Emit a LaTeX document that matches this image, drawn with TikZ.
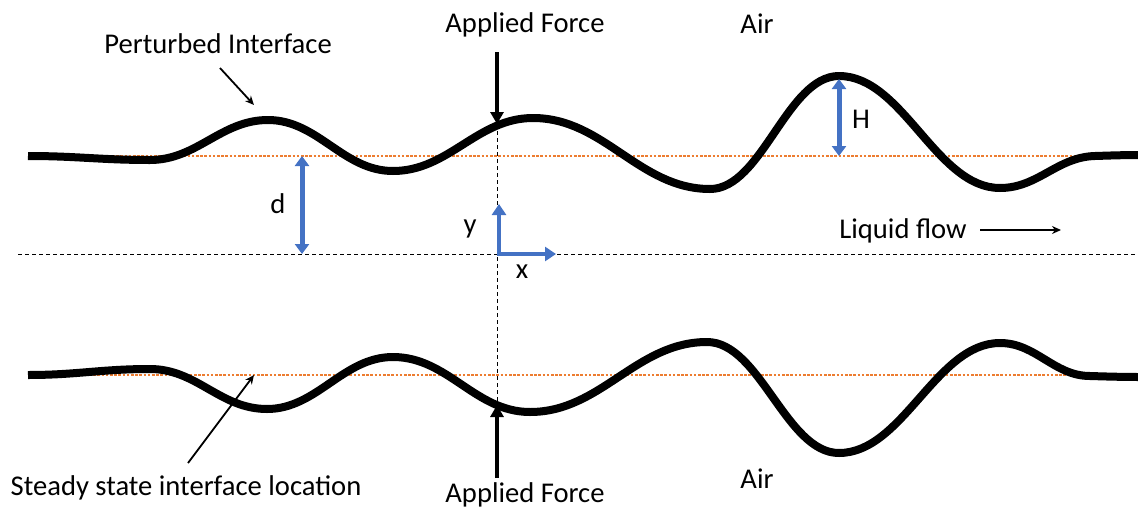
\documentclass[tikz,border=0pt]{standalone}
\usepackage{fontspec}
\setmainfont{Carlito}
\usetikzlibrary{arrows.meta}
\definecolor{cblue}{RGB}{68,114,196}
\definecolor{corange}{RGB}{237,125,49}
\begin{document}
\begin{tikzpicture}[x=1pt,y=-1pt,
  lbl/.style={font=\fontsize{28.6}{34}\selectfont, inner sep=0pt, anchor=base},
  iface/.style={line width=8pt, line join=round},
  steady/.style={corange, line width=2.8pt, dash pattern=on 2.6pt off 1.6pt},
  refline/.style={black, line width=0.9pt, dash pattern=on 4pt off 3pt},
  force/.style={line width=4.5pt, -{Triangle[length=12pt,width=13pt]}},
  bluearr/.style={cblue, line width=5pt, {Triangle[length=10pt,width=14pt]}-{Triangle[length=10pt,width=14pt]}},
  axisarr/.style={cblue, line width=4.5pt, -{Triangle[length=11pt,width=14pt]}},
  note/.style={line width=1.8pt, -{Stealth[length=9pt,width=8pt]}}
]
\useasboundingbox (0,0) rectangle (1138,509);

% reference lines
\coordinate (cl) at (18,254);
\coordinate (cr) at (1138,254);
\draw[refline] (cl) -- (cr);
\draw[steady] (70,156) -- (1076,156);
\draw[steady] (68,375) -- (1074,375);

% upper interface
\draw[iface] (28,156)
 .. controls (77,156) and (101,160) .. (150,160)
 .. controls (197,160) and (221,120) .. (268,120)
 .. controls (318,120) and (343,171) .. (393,171)
 .. controls (449,171) and (477,118) .. (533,118)
 .. controls (604,118) and (639,189) .. (710,189)
 .. controls (762,189) and (787,76) .. (839,76)
 .. controls (903,76) and (936,188) .. (1000,188)
 .. controls (1038,188) and (1057,157) .. (1095,156)
 .. controls (1110,155.5) and (1125,155) .. (1140,155);

% lower interface
\draw[iface] (28,375)
 .. controls (77,375) and (101,369) .. (150,369)
 .. controls (197,369) and (220,409) .. (267,409)
 .. controls (317,409) and (343,357) .. (393,357)
 .. controls (448,357) and (475,412) .. (530,412)
 .. controls (601,412) and (636,342) .. (707,342)
 .. controls (760,342) and (786,453) .. (839,453)
 .. controls (903,453) and (936,343) .. (1000,343)
 .. controls (1036,343) and (1054,376) .. (1090,376)
 .. controls (1106,376.5) and (1122,377) .. (1140,377);

% force arrows and vertical reference
\coordinate (ftop) at (497,124);
\coordinate (fbot) at (497,405);
\coordinate (ftopS) at (497,52);
\coordinate (fbotS) at (497,478);
\draw[refline] (ftop) -- (fbot);
\draw[force] (ftopS) -- (ftop);
\draw[force] (fbotS) -- (fbot);

% axes
\coordinate (o) at (499,254);
\coordinate (oy) at (499,204);
\coordinate (ox) at (556,254);
\draw[axisarr] ([yshift=-2.2pt]o) -- (oy);
\draw[axisarr] ([xshift=-2.2pt]o) -- (ox);

% d and H
\coordinate (d1) at (302,156);
\coordinate (d2) at (302,254);
\draw[bluearr] (d1) -- (d2);
\coordinate (h1) at (839,79);
\coordinate (h2) at (839,156);
\draw[bluearr] (h1) -- (h2);

% labels
\node[lbl] (pert) at (218,53) {Perturbed Interface};
\node[lbl] (aft) at (525,32) {Applied Force};
\node[lbl] (airt) at (757,33) {Air};
\node[lbl] (dl) at (278,213) {d};
\node[lbl] (hl) at (861,128) {H};
\node[lbl] (lf) at (903,238) {Liquid flow};
\node[lbl] (yl) at (470,233) {y};
\node[lbl] (xl) at (522,278) {x};
\node[lbl] (ss) at (186,495) {Steady state interface location};
\node[lbl] (afb) at (525,502) {Applied Force};
\node[lbl] (airb) at (757,488) {Air};

% annotation arrows
\coordinate (p1) at (220,68);
\coordinate (p2) at (254,105);
\draw[note] (p1) -- (p2);
\coordinate (s1) at (188,463);
\coordinate (s2) at (254,375);
\draw[note] (s1) -- (s2);
\coordinate (l1) at (980,230);
\coordinate (l2) at (1061,230);
\draw[note] (l1) -- (l2);
\end{tikzpicture}
\end{document}
